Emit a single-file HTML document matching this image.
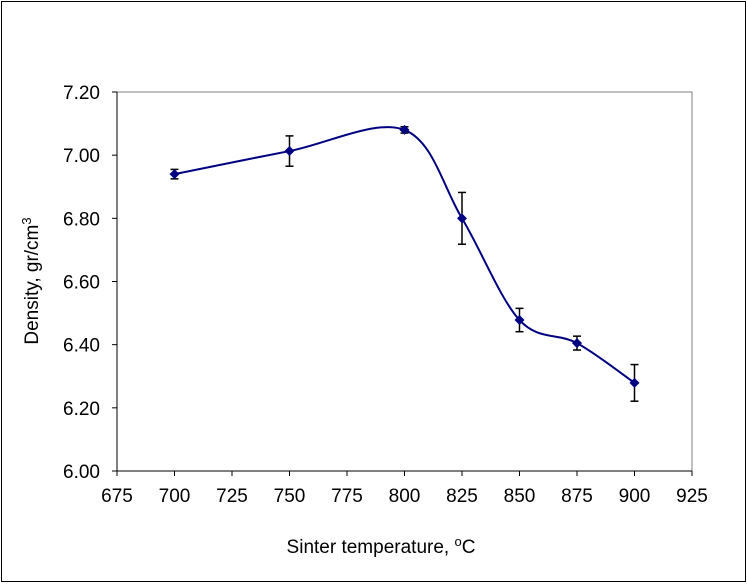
<!DOCTYPE html>
<html><head><meta charset="utf-8"><style>
body{margin:0;background:#fff}
svg text{font-family:"Liberation Sans",Arial,sans-serif;font-size:19px;fill:#000}
</style></head><body>
<svg width="747" height="583">
<rect x="1.5" y="1.5" width="744" height="580" fill="#fff" stroke="#000"/>
<rect x="117" y="92" width="575" height="379" fill="#fff" stroke="#808080"/>
<line x1="117" y1="92" x2="117" y2="471" stroke="#000"/>
<line x1="117" y1="471" x2="692" y2="471" stroke="#000"/>
<g id="axes"></g>
<g id="series"></g>
<text transform="translate(38,281) rotate(-90)" text-anchor="middle" style="font-size:19px">Density, gr/cm<tspan dy="-7" font-size="13">3</tspan></text>
<text x="381" y="553" text-anchor="middle" style="font-size:19px">Sinter temperature, <tspan dy="-7" font-size="13">o</tspan><tspan dy="7">C</tspan></text>
</svg>
<script>
const temps=[700,750,800,825,850,875,900];
const density=[6.94,7.013,7.08,6.80,6.478,6.405,6.279];
const errors=[0.015,0.048,0.01,0.082,0.037,0.022,0.058];
const xTicks=[675,700,725,750,775,800,825,850,875,900,925];
const yTicks=[6.00,6.20,6.40,6.60,6.80,7.00,7.20];
const NS="http://www.w3.org/2000/svg";
const X=v=>117+(v-675)*575/250;
const Y=v=>471-(v-6.0)*379/1.2;
function mk(t,a,p){const e=document.createElementNS(NS,t);for(const k in a)e.setAttribute(k,a[k]);p.appendChild(e);return e;}
const ax=document.getElementById('axes');
for(const t of xTicks){
 const l=mk('line',{x1:X(t),x2:X(t),y1:471,y2:476,stroke:'#000'},ax);
 
 
 const tx=mk('text',{x:X(t),y:502,'text-anchor':'middle'},ax);tx.textContent=t;
 
 
}
for(const t of yTicks){
 const l=mk('line',{x1:112,x2:117,y1:Y(t),y2:Y(t),stroke:'#000'},ax);
 
 
 const tx=mk('text',{x:100,y:Y(t)+7,'text-anchor':'end'},ax);tx.textContent=t.toFixed(2);
 
 
}
const s=document.getElementById('series');
const pts=temps.map((t,i)=>[X(t),Y(density[i])]);
let d=`M${pts[0][0]},${pts[0][1]}`;
for(let i=0;i<pts.length-1;i++){
 const p0=pts[Math.max(0,i-1)],p1=pts[i],p2=pts[i+1],p3=pts[Math.min(pts.length-1,i+2)];
 const c1=[p1[0]+(p2[0]-p0[0])/6,p1[1]+(p2[1]-p0[1])/6];
 const c2=[p2[0]-(p3[0]-p1[0])/6,p2[1]-(p3[1]-p1[1])/6];
 d+=` C${c1[0]},${c1[1]} ${c2[0]},${c2[1]} ${p2[0]},${p2[1]}`;
}
const ln=mk('path',{d:d,fill:'none',stroke:'#000080','stroke-width':2},s);


temps.forEach((t,i)=>{
 const x=X(t),yt=Y(density[i]+errors[i]),yb=Y(density[i]-errors[i]);
 const g=mk('g',{},s);
 
 
 mk('line',{x1:x,x2:x,y1:yt,y2:yb,stroke:'#000','stroke-width':1.5},g);
 mk('line',{x1:x-4,x2:x+4,y1:yt,y2:yt,stroke:'#000','stroke-width':1.5},g);
 mk('line',{x1:x-4,x2:x+4,y1:yb,y2:yb,stroke:'#000','stroke-width':1.5},g);
 const y=Y(density[i]);
 const m=mk('path',{d:`M${x},${y-5}L${x+5},${y}L${x},${y+5}L${x-5},${y}Z`,fill:'#000080'},s);
 
 
});
</script>
</body></html>
